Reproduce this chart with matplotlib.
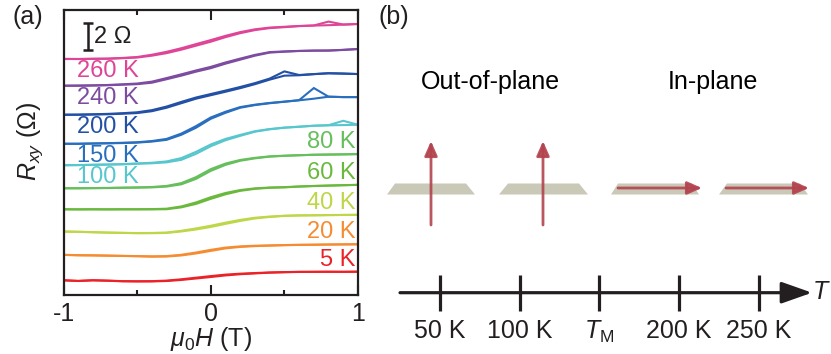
import matplotlib
matplotlib.use("Agg")
import matplotlib.pyplot as plt
from matplotlib.patches import Polygon
import numpy as np

plt.rcParams['font.family'] = ['Liberation Sans', 'DejaVu Sans']
plt.rcParams['mathtext.fontset'] = 'custom'
plt.rcParams['mathtext.rm'] = 'Liberation Sans'
plt.rcParams['mathtext.it'] = 'Liberation Sans:italic'

# ---- data: Hall resistance loops (offset for clarity), field sweep grid in T
field = np.linspace(-1, 1, 21)

temps_left = ['260 K', '240 K', '200 K', '150 K', '100 K']
temps_right = ['80 K', '60 K', '40 K', '20 K', '5 K']

r_up = {
    '260 K': [17.72, 17.72, 17.73, 17.74, 17.78, 17.83, 17.97, 18.16, 18.42, 18.72, 19.02,
              19.36, 19.66, 19.89, 20.04, 20.11, 20.19, 20.23, 20.26, 20.30, 20.35],
    '240 K': [15.71, 15.71, 15.73, 15.75, 15.79, 15.83, 15.94, 16.20, 16.47, 16.77, 17.03,
              17.37, 17.67, 17.97, 18.20, 18.27, 18.32, 18.35, 18.35, 18.40, 18.47],
    '200 K': [13.53, 13.53, 13.55, 13.57, 13.61, 13.66, 13.80, 14.06, 14.40, 14.74, 15.00,
              15.26, 15.53, 15.83, 16.17, 16.47, 16.50, 16.58, 16.65, 16.62, 16.59],
    '150 K': [11.35, 11.35, 11.37, 11.39, 11.41, 11.44, 11.52, 11.65, 12.03, 12.56, 13.23,
              13.68, 14.06, 14.26, 14.40, 14.51, 14.62, 14.74, 14.89, 14.86, 14.86],
    '100 K': [9.74, 9.75, 9.77, 9.79, 9.81, 9.85, 9.89, 9.96, 10.15, 10.60, 11.17,
              11.62, 11.95, 12.26, 12.44, 12.56, 12.63, 12.71, 12.74, 12.76, 12.78],
    '80 K': [8.01, 8.01, 8.02, 8.03, 8.05, 8.06, 8.08, 8.14, 8.31, 8.72, 9.32,
             9.77, 10.08, 10.26, 10.39, 10.45, 10.49, 10.53, 10.54, 10.56, 10.58],
    '60 K': [6.43, 6.43, 6.43, 6.43, 6.43, 6.43, 6.43, 6.44, 6.58, 6.84, 7.22,
             7.56, 7.82, 7.97, 8.05, 8.08, 8.14, 8.18, 8.21, 8.24, 8.27],
    '40 K': [4.76, 4.74, 4.71, 4.68, 4.66, 4.64, 4.64, 4.66, 4.77, 4.92, 5.11,
             5.34, 5.56, 5.75, 5.86, 5.94, 5.97, 5.98, 6.00, 6.01, 6.02],
    '20 K': [3.01, 2.98, 2.97, 2.95, 2.93, 2.91, 2.88, 2.89, 2.97, 3.12, 3.31,
             3.50, 3.61, 3.67, 3.71, 3.74, 3.76, 3.77, 3.79, 3.80, 3.81],
    '5 K': [1.11, 1.05, 1.11, 1.07, 1.03, 1.02, 1.02, 1.05, 1.13, 1.24, 1.35,
            1.47, 1.56, 1.62, 1.68, 1.71, 1.73, 1.74, 1.74, 1.74, 1.75],
}
r_down = {
    '260 K': [17.73, 17.72, 17.74, 17.75, 17.80, 17.87, 18.04, 18.26, 18.53, 18.84, 19.14,
              19.46, 19.74, 19.95, 20.08, 20.14, 20.20, 20.24, 20.53, 20.31, 20.35],
    '240 K': [15.72, 15.73, 15.74, 15.77, 15.82, 15.88, 16.02, 16.29, 16.57, 16.86, 17.13,
              17.46, 17.75, 18.03, 18.24, 18.29, 18.33, 18.35, 18.36, 18.41, 18.47],
    '200 K': [13.54, 13.55, 13.57, 13.60, 13.65, 13.72, 13.88, 14.15, 14.50, 14.83, 15.09,
              15.35, 15.62, 15.91, 16.25, 16.79, 16.52, 16.59, 16.65, 16.63, 16.59],
    '150 K': [11.36, 11.36, 11.38, 11.40, 11.43, 11.47, 11.56, 11.72, 12.12, 12.68, 13.33,
              13.76, 14.11, 14.29, 14.42, 14.52, 14.63, 15.54, 14.89, 14.86, 14.86],
    '100 K': [9.75, 9.76, 9.78, 9.80, 9.83, 9.88, 9.93, 10.03, 10.28, 10.75, 11.30,
              11.72, 12.02, 12.30, 12.46, 12.57, 12.64, 12.71, 12.75, 13.08, 12.78],
    '80 K': [8.02, 8.02, 8.03, 8.04, 8.06, 8.08, 8.11, 8.19, 8.40, 8.85, 9.45,
             9.87, 10.14, 10.30, 10.41, 10.46, 10.50, 10.53, 10.55, 10.56, 10.58],
    '60 K': [6.44, 6.43, 6.44, 6.43, 6.44, 6.44, 6.45, 6.48, 6.65, 6.95, 7.34,
             7.66, 7.88, 8.01, 8.07, 8.10, 8.15, 8.19, 8.22, 8.25, 8.27],
    '40 K': [4.77, 4.75, 4.72, 4.69, 4.67, 4.65, 4.66, 4.69, 4.82, 5.00, 5.20,
             5.43, 5.64, 5.80, 5.89, 5.95, 5.98, 5.99, 6.00, 6.01, 6.02],
    '20 K': [3.02, 2.99, 2.98, 2.96, 2.94, 2.92, 2.90, 2.92, 3.02, 3.19, 3.39,
             3.56, 3.65, 3.70, 3.72, 3.75, 3.77, 3.78, 3.79, 3.80, 3.81],
    '5 K': [1.10, 1.06, 1.10, 1.08, 1.04, 1.03, 1.04, 1.08, 1.18, 1.30, 1.42,
            1.53, 1.60, 1.65, 1.69, 1.72, 1.74, 1.74, 1.75, 1.74, 1.75],
}
colors = {
    '260 K': '#de4596', '240 K': '#7d4ba0', '200 K': '#2350a5', '150 K': '#2a6ebe',
    '100 K': '#58c7cd', '80 K': '#66bf5c', '60 K': '#6ab93e', '40 K': '#bdd748',
    '20 K': '#f58c32', '5 K': '#eb2328',
}

# ---- panel (b): temperature axis
t_labels = ['50 K', '100 K', r'$T_{\mathrm{M}}$', '200 K', '250 K']

W, H = 831, 354
fig = plt.figure(figsize=(W / 100, H / 100), dpi=100)
dark = '#231f20'
fs = 18
fs_lab = 17

# ---------------- panel (a)
ax = fig.add_axes([63.5 / W, (H - 295) / H, 294.5 / W, 285 / H])
for T in temps_left + temps_right:
    ax.plot(field, r_up[T], color=colors[T], lw=1.5, solid_joinstyle='miter')
    ax.plot(field, r_down[T], color=colors[T], lw=1.5, solid_joinstyle='miter')

for T in temps_left:
    ax.text(-0.91, r_up[T][0] - 0.9, T, color=colors[T], fontsize=fs_lab,
            ha='left', va='center')
for T in temps_right:
    ax.text(0.985, r_up[T][-1] + 0.9, T, color=colors[T], fontsize=fs_lab,
            ha='right', va='center')

# 2 Ohm scale bar
ax.errorbar([-0.837], [19.4], yerr=[1.0], color=dark, lw=1.8, capsize=3.5, capthick=1.8)
ax.text(-0.79, 19.4, '2 Ω', fontsize=fs_lab, ha='left', va='center', color=dark)

ax.set_xlim(-1, 1)
ax.set_ylim(0, 21.4)
ax.set_xticks([-1, 0, 1])
ax.set_xticklabels(['-1', '0', '1'])
ax.set_xticks([-0.5, 0.5], minor=True)
ax.set_yticks([])
ax.tick_params(axis='x', which='both', direction='in', top=True, colors=dark,
               labelsize=fs, pad=5)
ax.tick_params(axis='x', which='major', length=7, width=1.5)
ax.tick_params(axis='x', which='minor', length=3.5, width=1.5)
for s in ax.spines.values():
    s.set_linewidth(1.6)
    s.set_color(dark)
ax.set_xlabel(r'$\mu_0H$ (T)', fontsize=fs, color=dark, labelpad=-1)
ax.set_ylabel(r'$R_{xy}$ (Ω)', fontsize=fs, color=dark)
ax.yaxis.set_label_coords(-0.062, 0.54)

fig.text(12 / W, 1 - 17 / H, '(a)', fontsize=fs, ha='left', va='center', color=dark)
fig.text(378 / W, 1 - 17 / H, '(b)', fontsize=fs, ha='left', va='center', color=dark)

# ---------------- panel (b): schematic
axb = fig.add_axes([380 / W, 0, (W - 380) / W, 1])
axb.set_xlim(380, W)
axb.set_ylim(H, 0)
axb.axis('off')

plane_col = '#cac9b8'
arrow_col = '#b3434f'
planes = [(387, 475, 395, 466), (499, 588, 508, 579), (611, 699, 618, 692), (719, 808, 727, 800)]
for xb0, xb1, xt0, xt1 in planes:
    axb.add_patch(Polygon([(xb0, 194.5), (xb1, 194.5), (xt1, 183.5), (xt0, 183.5)],
                          closed=True, facecolor=plane_col, edgecolor='none'))

astyle = dict(arrowstyle='-|>,head_length=0.8,head_width=0.35', color=arrow_col, lw=2.0,
              mutation_scale=11, shrinkA=0, shrinkB=0, alpha=0.9)
for xa in (431, 543):
    axb.annotate('', xy=(xa, 141), xytext=(xa, 225), arrowprops=astyle)
for xa0, xa1 in ((618, 702), (726, 809)):
    axb.annotate('', xy=(xa1, 188), xytext=(xa0, 188), arrowprops=astyle)

axb.text(490, 82, 'Out-of-plane', fontsize=fs, ha='center', va='center', color='black')
axb.text(713, 82, 'In-plane', fontsize=fs, ha='center', va='center', color='black')

# temperature axis
x0, step = 440, 79.75
axt = fig.add_axes([400 / W, (H - 292.7) / H, (790 - 400) / W, 0.0001])
axt.set_xlim(-0.5, (790 - x0) / step)
axt.set_ylim(0, 1)
for s in axt.spines.values():
    s.set_visible(False)
axt.set_yticks([])
axt.set_xticks(range(len(t_labels)))
axt.set_xticklabels(t_labels)
axt.tick_params(axis='x', direction='inout', length=26, width=2.3, colors=dark,
                labelsize=fs, pad=6)
axt.patch.set_visible(False)
axt.annotate('', xy=((812 - x0) / step, 0), xytext=(-0.5, 0),
             xycoords=('data', 'axes fraction'), textcoords=('data', 'axes fraction'),
             arrowprops=dict(arrowstyle='-|>,head_length=0.85,head_width=0.3',
                             color=dark, lw=2.3, mutation_scale=22, shrinkA=0, shrinkB=0),
             annotation_clip=False)
fig.text(813 / W, 1 - 292 / H, 'T', fontsize=fs, fontstyle='italic',
         ha='left', va='center', color=dark)

fig.savefig('out.png', dpi=100)
